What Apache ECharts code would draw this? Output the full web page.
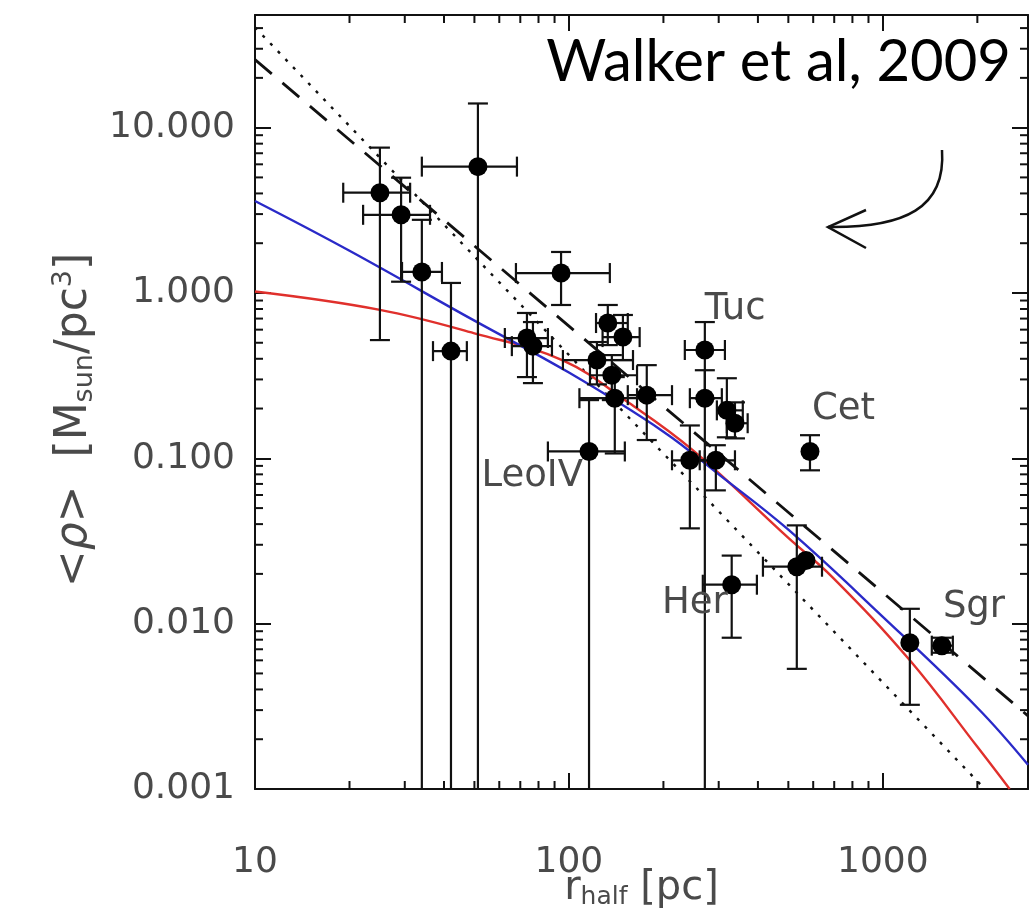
<!DOCTYPE html>
<html>
<head>
<meta charset="utf-8">
<script src="https://cdn.jsdelivr.net/npm/echarts@6/dist/echarts.min.js"></script>
<style>
  html, body { margin: 0; padding: 0; background: #fff; }
  #chart { width: 1036px; height: 912px; }
</style>
</head>
<body>
<div id="chart"></div>
<script>
// Mean dark-matter density inside the half-light radius of Milky Way dwarf spheroidals.

// Galaxy names (only the annotated ones carry a label)
const galaxyNames = ['', '', '', '', '', '', '', '', '', '', '', '', '', '', 'Tuc', '', '', '', '', '', 'LeoIV', 'Cet', 'Her', '', '', '', 'Sgr'];
// Half-light radius [pc] and its error range
const rHalf   = [25.0, 29.2, 34.0, 42.1, 51.3, 73.5, 76.8, 94.4, 133, 148.6, 122.8, 137, 140, 177, 271, 271, 242.8, 293.8, 318.5, 338, 115.9, 586, 330, 532, 569, 1219, 1542];
const rHalfLo = [19.1, 22.1, 29.4, 36.9, 34.0, 62.5, 65.8, 67.8, 122, 128, 95.7, 116.7, 108, 154, 234, 242.8, 213, 261, 296, 318.5, 85.7, null, 267, 415, null, null, 1432];
const rHalfHi = [31.2, 36.1, 39.4, 47.3, 68.3, 85.7, 88.3, 135, 154, 168, 160, 164.8, 164.8, 213, 314, 307, 271, 338, 358, 371, 150.7, null, 397, 640, null, null, 1671];
// Mean density [Msun/pc^3]; a lower bound of 0 means the range reaches zero
const rhoMean = [4.04, 2.97, 1.34, 0.445, 5.81, 0.534, 0.477, 1.32, 0.658, 0.541, 0.393, 0.318, 0.231, 0.241, 0.452, 0.231, 0.0973, 0.0973, 0.195, 0.163, 0.110, 0.110, 0.0172, 0.0221, 0.0241, 0.00767, 0.00736];
const rhoLo   = [0.519, 1.17, 0, 0, 0, 0.310, 0.285, 0.846, 0.484, 0.393, 0.28, 0.225, 0.107, 0.129, 0.23, 0, 0.0377, 0.064, 0.134, 0.132, 0, 0.0846, 0.00822, 0.00533, null, 0.00323, 0.00667];
const rhoHi   = [7.57, 4.98, 2.77, 1.15, 14.0, 0.757, 0.667, 1.77, 0.846, 0.736, 0.505, 0.421, 0.310, 0.366, 0.667, 0.341, 0.158, 0.12, 0.305, 0.218, 0.225, 0.138, 0.0258, 0.0393, null, 0.0123, 0.00822];

// Model curves: r [pc] and density
const blueR   = [10, 20, 50, 100, 200, 300, 500, 1000, 2000, 2900];
const blueRho = [3.6, 1.8, 0.68, 0.33, 0.145, 0.08, 0.037, 0.011, 0.0031, 0.0014];
const redR    = [10, 25, 50, 96, 156, 248, 500, 693, 1219, 2000, 2535];
const redRho  = [1.02, 0.79, 0.57, 0.39, 0.215, 0.112, 0.033, 0.019, 0.006, 0.0018, 0.001];
const dashedR   = [10, 2900];
const dashedRho = [25.8, 0.00277];
const dottedR   = [10, 2113];
const dottedRho = [40.4, 0.001];

// Axis ranges and tick labels
const xRange = [10, 2900];
const yRange = [0.001, 48];
const xTickLabels = ['10', '100', '1000'];
const yTickLabels = ['0.001', '0.010', '0.100', '1.000', '10.000'];
const minorMantissas = [2, 3, 4, 5, 6, 7, 8, 9];
const xDecades = [10, 100, 1000];
const yDecades = [0.001, 0.01, 0.1, 1, 10];

const labelFont = 'DejaVu Sans';
const textGray = '#4a4a4a';
const labelPlacement = {
  Tuc:   { align: 'left',  offset: [0, -41] },
  Cet:   { align: 'left',  offset: [2, -42] },
  LeoIV: { align: 'right', offset: [-6, 25] },
  Her:   { align: 'right', offset: [-4, 19] },
  Sgr:   { align: 'left',  offset: [1, -38] }
};

const xMinor = [];
xDecades.forEach(d => minorMantissas.forEach(m => { if (m * d < xRange[1]) xMinor.push(m * d); }));
const yMinor = [];
yDecades.forEach(d => minorMantissas.forEach(m => { if (m * d < yRange[1]) yMinor.push(+(m * d).toPrecision(3)); }));

function isDecade(v) {
  const l = Math.log10(v);
  return Math.abs(l - Math.round(l)) < 1e-6;
}
function xLabel(v) {
  if (!isDecade(v)) return '';
  const s = String(Math.round(v));
  return xTickLabels.indexOf(s) >= 0 ? s : '';
}
function yLabel(v) {
  if (!isDecade(v)) return '';
  const s = v.toFixed(3);
  return yTickLabels.indexOf(s) >= 0 ? s : '';
}

const axisColor = '#111';
function baseX(pos, showLabel) {
  return {
    type: 'log', logBase: 10, min: xRange[0], max: xRange[1], position: pos,
    axisLine: { show: true, onZero: false, lineStyle: { color: axisColor, width: 2 } },
    axisTick: { show: true, inside: true, length: 16, lineStyle: { color: axisColor, width: 2 } },
    axisLabel: { show: showLabel, formatter: xLabel, margin: 56, fontSize: 36, fontFamily: labelFont, color: textGray,
                 showMinLabel: true, showMaxLabel: false },
    splitLine: { show: false }, minorTick: { show: false }
  };
}
function baseY(pos, showLabel) {
  return {
    type: 'log', logBase: 10, min: yRange[0], max: yRange[1], position: pos,
    axisLine: { show: true, onZero: false, lineStyle: { color: axisColor, width: 2 } },
    axisTick: { show: true, inside: true, length: 16, lineStyle: { color: axisColor, width: 2 } },
    axisLabel: { show: showLabel, formatter: yLabel, margin: 20, fontSize: 36, fontFamily: labelFont, color: textGray,
                 showMaxLabel: false },
    splitLine: { show: false }, minorTick: { show: false }
  };
}

const xAxisBottom = Object.assign(baseX('bottom', true), {
  name: '{t|r}{sub|half}{t| [pc]}', nameLocation: 'middle', nameGap: 78, nameMoveOverlap: false,
  nameTextStyle: {
    color: textGray, fontFamily: labelFont,
    rich: {
      t: { fontSize: 40, fontFamily: labelFont, color: textGray },
      sub: { fontSize: 25, fontFamily: labelFont, color: textGray, padding: [18, 0, 0, 0] }
    }
  }
});
const yAxisLeft = Object.assign(baseY('left', true), {
  name: '{t|<}{i|ρ}{t|>  [M}{sub|sun}{t|/pc}{sup|3}{t|]}', nameLocation: 'middle', nameGap: 156, nameRotate: 90,
  nameMoveOverlap: false,
  nameTextStyle: {
    color: textGray, fontFamily: labelFont, padding: [0, 36, 0, 0],
    rich: {
      t: { fontSize: 44, fontFamily: labelFont, color: textGray },
      i: { fontSize: 44, fontFamily: labelFont, fontStyle: 'italic', color: textGray },
      sub: { fontSize: 27, fontFamily: labelFont, color: textGray, padding: [20, 0, 0, 0] },
      sup: { fontSize: 27, fontFamily: labelFont, color: textGray, padding: [0, 0, 22, 0] }
    }
  }
});

function pairs(xs, ys) { return xs.map((x, i) => [x, ys[i]]); }

// Error bars drawn through the axis scales
const errorRows = rHalf.map((r, i) => [r, rhoMean[i], rHalfLo[i], rHalfHi[i], rhoLo[i], rhoHi[i]]);
const capHalf = 10;
function ok(v) { return v !== null && v !== undefined && isFinite(v) && v > 0; }
function renderErrorBar(params, api) {
  const x = api.value(0), y = api.value(1), xl = api.value(2), xh = api.value(3), yl = api.value(4), yh = api.value(5);
  const c = api.coord([x, y]);
  const cs = params.coordSys;
  const style = { stroke: '#111', lineWidth: 2.2 };
  const kids = [];
  const seg = (x1, y1, x2, y2) => kids.push({ type: 'line', shape: { x1, y1, x2, y2 }, style });
  if (ok(xl) && ok(xh)) {
    const a = api.coord([xl, y])[0], b = api.coord([xh, y])[0];
    seg(a, c[1], b, c[1]);
    seg(a, c[1] - capHalf, a, c[1] + capHalf);
    seg(b, c[1] - capHalf, b, c[1] + capHalf);
  }
  if (ok(yh)) {
    const t = api.coord([x, yh])[1];
    seg(c[0], c[1], c[0], t);
    seg(c[0] - capHalf, t, c[0] + capHalf, t);
  }
  if (yl === 0) {
    seg(c[0], c[1], c[0], cs.y + cs.height);
  } else if (ok(yl)) {
    const b = api.coord([x, yl])[1];
    seg(c[0], c[1], c[0], b);
    seg(c[0] - capHalf, b, c[0] + capHalf, b);
  }
  return { type: 'group', children: kids };
}

// Minor (log) ticks on all four sides of the frame
function renderMinorTicks(params, api) {
  const cs = params.coordSys;
  const style = { stroke: axisColor, lineWidth: 2 };
  const L = 8;
  const kids = [];
  xMinor.forEach(v => {
    const px = api.coord([v, yRange[0]])[0];
    kids.push({ type: 'line', shape: { x1: px, y1: cs.y + cs.height, x2: px, y2: cs.y + cs.height - L }, style });
    kids.push({ type: 'line', shape: { x1: px, y1: cs.y, x2: px, y2: cs.y + L }, style });
  });
  yMinor.forEach(v => {
    const py = api.coord([xRange[0], v])[1];
    kids.push({ type: 'line', shape: { x1: cs.x, y1: py, x2: cs.x + L, y2: py }, style });
    kids.push({ type: 'line', shape: { x1: cs.x + cs.width, y1: py, x2: cs.x + cs.width - L, y2: py }, style });
  });
  return { type: 'group', children: kids };
}

const pointData = rHalf.map((r, i) => {
  const item = { value: [r, rhoMean[i]] };
  const p = labelPlacement[galaxyNames[i]];
  if (p) {
    item.label = {
      show: true, formatter: galaxyNames[i], position: 'inside', align: p.align, verticalAlign: 'middle',
      offset: p.offset, fontSize: 37, fontFamily: labelFont, color: textGray
    };
  }
  return item;
});

const chart = echarts.init(document.getElementById('chart'), null, { renderer: 'canvas' });
chart.setOption({
  animation: false,
  backgroundColor: '#fff',
  grid: { left: 255, right: 8, top: 15, bottom: 123, containLabel: false, outerBoundsMode: 'none' },
  xAxis: [xAxisBottom, baseX('top', false)],
  yAxis: [yAxisLeft, baseY('right', false)],
  series: [
    { type: 'custom', name: 'ticks', renderItem: renderMinorTicks, data: [[xRange[0], yRange[0]]], silent: true, z: 1, clip: false },
    { type: 'line', name: 'dotted', data: pairs(dottedR, dottedRho), showSymbol: false, symbol: 'none',
      lineStyle: { color: '#111', width: 2.4, type: [3, 8] }, z: 2 },
    { type: 'line', name: 'dashed', data: pairs(dashedR, dashedRho), showSymbol: false, symbol: 'none',
      lineStyle: { color: '#111', width: 2.8, type: [22, 14] }, z: 2 },
    { type: 'line', name: 'cored', data: pairs(redR, redRho), showSymbol: false, symbol: 'none', smooth: 0.4,
      lineStyle: { color: '#e0302c', width: 2.4 }, z: 3 },
    { type: 'line', name: 'cusped', data: pairs(blueR, blueRho), showSymbol: false, symbol: 'none', smooth: 0.4,
      lineStyle: { color: '#2a2ac8', width: 2.4 }, z: 3 },
    { type: 'custom', name: 'errors', renderItem: renderErrorBar, data: errorRows, clip: true, z: 4,
      encode: { x: 0, y: 1 } },
    { type: 'scatter', name: 'dSph', data: pointData, symbol: 'circle', symbolSize: 19,
      itemStyle: { color: '#000', opacity: 1 }, z: 5 }
  ],
  graphic: [
    { type: 'text', z: 10, style: { text: 'Walker et al, 2009', x: 1011, y: 62, textAlign: 'right', textVerticalAlign: 'middle',
      font: '58px Lato', fill: '#000' } },
    { type: 'bezierCurve', z: 10, shape: { x1: 942, y1: 150, cpx1: 946, cpy1: 208, cpx2: 905, cpy2: 228, x2: 828, y2: 227 },
      style: { stroke: '#111', lineWidth: 2.5, fill: null } },
    { type: 'polyline', z: 10, shape: { points: [[866, 210], [828, 227], [866, 248]] },
      style: { stroke: '#111', lineWidth: 2.5, fill: null } }
  ]
});
</script>
</body>
</html>
